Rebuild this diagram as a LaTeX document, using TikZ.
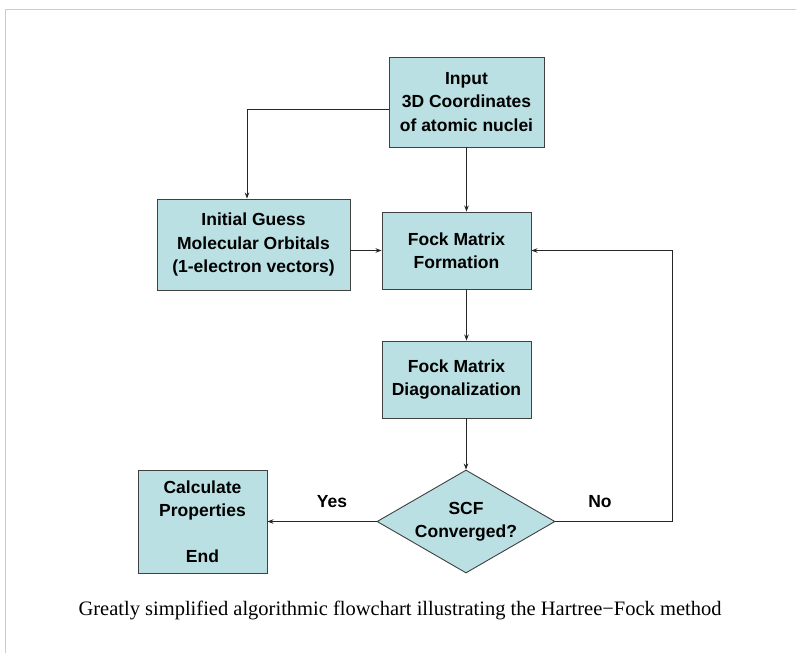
\documentclass[tikz,border=0pt]{standalone}
\usepackage{fontspec}
\setmainfont{Liberation Serif}
\setsansfont{Liberation Sans}
\usetikzlibrary{shapes.geometric,arrows.meta}
\definecolor{boxfill}{RGB}{186,224,227}
\definecolor{boxline}{RGB}{64,64,64}
\begin{document}
\begin{tikzpicture}[x=1pt, y=-1pt,
    procbox/.style={draw=boxline, fill=boxfill, line width=0.9pt, align=center,
        font=\sffamily\bfseries\fontsize{17.5}{23.5}\selectfont, inner sep=0pt},
    decision/.style={diamond, shape aspect=1.73, draw=boxline, fill=boxfill, line width=0.9pt,
        align=center, font=\sffamily\bfseries\fontsize{17.5}{23.5}\selectfont, inner sep=0pt},
    flow/.style={draw=black!85, line width=0.8pt, -{Stealth[length=6pt,width=4.5pt]}},
    branch/.style={font=\sffamily\bfseries\fontsize{17.5}{20}\selectfont}]
    \useasboundingbox (0,0) rectangle (796,653);
    % Frame (top and left edges)
    \draw[black!20, line width=1pt] (796,9) -- (5,9) -- (5,653);

    % Boxes
    \node[procbox, minimum width=155pt, minimum height=90pt] (input) at (466.5,102)
        {Input\\3D Coordinates\\of atomic nuclei};
    \node[procbox, minimum width=193pt, minimum height=91pt] (guess) at (253.5,244.5)
        {Initial Guess\\Molecular Orbitals\\(1-electron vectors)};
    \node[procbox, minimum width=149pt, minimum height=77pt] (form) at (456.5,250.5)
        {Fock Matrix\\Formation};
    \node[procbox, minimum width=149pt, minimum height=77pt] (diag) at (456.5,379.5)
        {Fock Matrix\\Diagonalization};
    \node[decision, minimum width=178pt, minimum height=103pt] (scf) at (466,521.5)
        {SCF\\Converged?};
    \node[procbox, minimum width=129pt, minimum height=103pt] (calc) at (202.5,521.5)
        {Calculate\\Properties\\[22pt]End};

    % Connectors
    \draw[flow] (input.west |- 0,109) -| (guess.north -| 247,0);
    \draw[flow] (input.south) -- (input.south |- form.north);
    \draw[flow] (form.south -| input.south) -- (diag.north -| input.south);
    \draw[flow] (diag.south -| scf.north) -- (scf.north);
    \draw[flow] (form.west -| guess.east) -- (form.west);
    \draw[flow] (scf.west) -- (calc.east);
    \draw[flow] (scf.east) -- ++(117,0) |- (form.east);

    % Branch labels
    \node[branch] (yes) at (332,502) {Yes};
    \node[branch] (no) at (600,502) {No};

    % Caption
    \node[font=\fontsize{20.5}{24}\selectfont] (caption) at (400,610)
        {Greatly simplified algorithmic flowchart illustrating the Hartree−Fock method};
\end{tikzpicture}
\end{document}
